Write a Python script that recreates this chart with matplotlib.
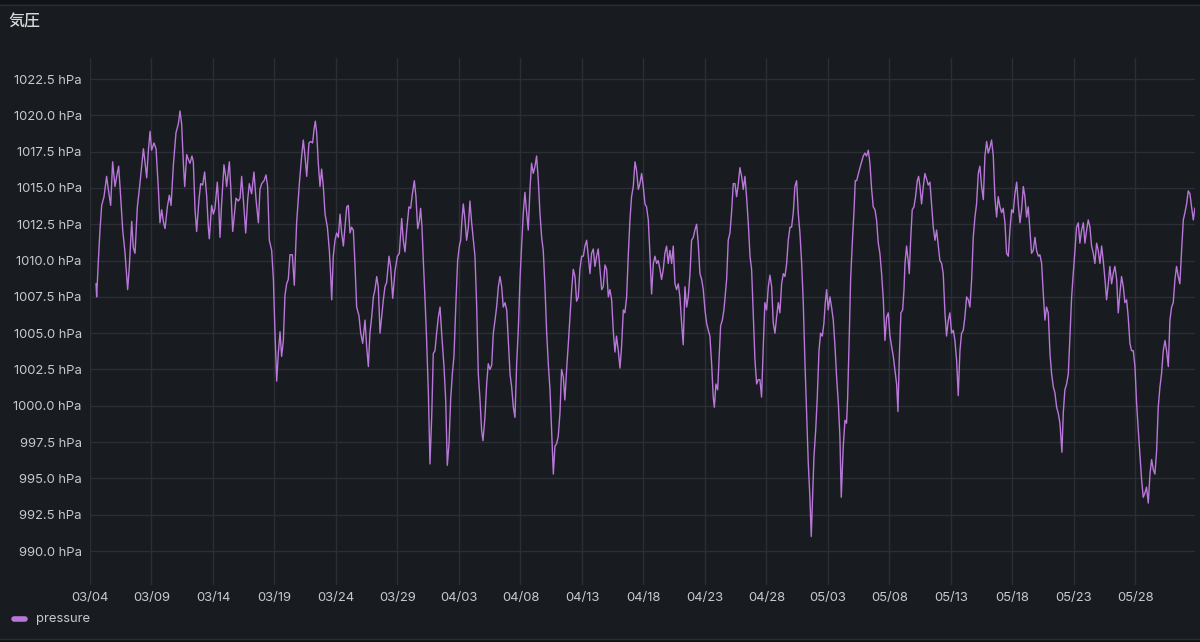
import pandas as pd
import matplotlib
matplotlib.use("Agg")
import matplotlib.pyplot as plt
from matplotlib.lines import Line2D
from matplotlib.patches import Rectangle

plt.rcParams['font.family'] = ['Inter', 'Noto Sans CJK JP', 'DejaVu Sans']

# readings: days after 03/04 00:00, pressure in hPa
days_1 = [0.49, 0.54, 0.68, 0.81, 0.95, 1.14, 1.35, 1.49, 1.68, 1.84,
          2.03, 2.17, 2.33, 2.44, 2.66, 2.85, 3.06, 3.20, 3.39, 3.52,
          3.66, 3.85, 4.06, 4.34, 4.47, 4.61, 4.74, 4.88, 5.01, 5.20,
          5.37, 5.56, 5.69, 5.83, 5.96, 6.10, 6.29, 6.45, 6.59, 6.78,
          6.99, 7.18, 7.32, 7.45, 7.59, 7.70, 7.86, 8.02, 8.13, 8.29,
          8.40, 8.54, 8.67, 8.86, 9.00, 9.16, 9.32, 9.49, 9.62, 9.70,
          9.89, 10.03, 10.16, 10.35, 10.46, 10.57, 10.70, 10.89, 11.03, 11.11,
          11.33, 11.44, 11.60, 11.71, 11.87, 12.06, 12.20, 12.33, 12.47, 12.66,
          12.82, 12.95, 13.14, 13.33, 13.50, 13.69, 13.82, 13.96, 14.15, 14.31,
          14.44, 14.58, 14.77, 14.91, 15.04, 15.18, 15.31, 15.45, 15.58, 15.72,
          15.85, 15.99, 16.12, 16.26, 16.45, 16.61]
hpa_1 = [1008.4, 1007.5, 1010.0, 1012.1, 1013.8, 1014.4, 1015.8, 1014.9, 1013.8, 1016.8,
         1015.1, 1015.8, 1016.5, 1015.1, 1012.1, 1010.5, 1008.0, 1009.6, 1012.7, 1010.9,
         1010.5, 1013.7, 1015.3, 1017.7, 1016.8, 1015.7, 1017.5, 1018.9, 1017.6, 1018.1,
         1017.7, 1014.9, 1012.6, 1013.5, 1012.7, 1012.2, 1013.7, 1014.5, 1013.8, 1016.6,
         1018.8, 1019.4, 1020.3, 1019.4, 1016.7, 1015.1, 1017.3, 1016.9, 1016.7, 1017.2,
         1016.8, 1013.5, 1012.0, 1014.2, 1015.3, 1015.2, 1016.1, 1014.4, 1012.3, 1011.5,
         1013.8, 1013.2, 1013.6, 1015.4, 1013.9, 1011.6, 1013.9, 1016.6, 1015.8, 1015.1,
         1016.8, 1015.1, 1012.0, 1012.9, 1014.3, 1014.1, 1014.3, 1015.8, 1014.2, 1011.9,
         1014.2, 1015.3, 1014.6, 1016.1, 1014.2, 1012.6, 1014.9, 1015.3, 1015.5, 1015.9,
         1015.1, 1011.4, 1010.7, 1008.7, 1005.0, 1001.7, 1003.6, 1005.1, 1003.4, 1004.5,
         1007.6, 1008.4, 1008.7, 1010.4, 1010.4, 1008.3]

days_2 = [16.80, 17.02, 17.21, 17.34, 17.48, 17.62, 17.80, 17.94, 18.10, 18.21,
          18.32, 18.43, 18.56, 18.70, 18.83, 18.97, 19.11, 19.30, 19.46, 19.57,
          19.65, 19.78, 19.92, 20.05, 20.19, 20.33, 20.46, 20.60, 20.73, 20.87,
          21.00, 21.14, 21.27, 21.41, 21.54, 21.68, 21.87, 22.01, 22.17, 22.36,
          22.49, 22.63, 22.76, 22.90, 23.04, 23.17, 23.31, 23.44, 23.58, 23.71,
          23.85, 23.98, 24.12, 24.31, 24.44, 24.61, 24.80, 24.99, 25.15, 25.34,
          25.47, 25.61, 25.75, 25.93, 26.07, 26.21, 26.37, 26.50, 26.64, 26.77,
          26.88, 26.99, 27.10, 27.24, 27.37, 27.51, 27.64, 27.78, 27.91, 28.05,
          28.18, 28.32, 28.46, 28.59, 28.78, 28.92, 29.05, 29.19, 29.32, 29.46,
          29.59, 29.76, 29.89, 30.03, 30.14, 30.24, 30.35, 30.49, 30.62, 30.76,
          30.89, 31.03, 31.17, 31.30, 31.44, 31.57, 31.71, 31.84, 31.95, 32.11,
          32.25, 32.38, 32.52, 32.66, 32.79, 32.93, 33.06, 33.20, 33.33, 33.47,
          33.60, 33.74, 33.88, 34.01, 34.15, 34.28, 34.42, 34.55]
hpa_2 = [1012.6, 1015.3, 1017.2, 1018.3, 1017.2, 1015.8, 1018.1, 1018.2, 1018.1, 1019.0,
         1019.6, 1018.8, 1016.7, 1015.1, 1016.3, 1015.1, 1013.2, 1012.3, 1010.7, 1008.9,
         1007.3, 1010.3, 1011.4, 1011.9, 1011.6, 1013.2, 1011.9, 1011.0, 1012.3, 1013.7,
         1013.8, 1011.9, 1012.3, 1012.1, 1009.8, 1006.8, 1006.2, 1005.0, 1004.3, 1005.9,
         1004.1, 1002.7, 1005.0, 1006.1, 1007.5, 1008.0, 1008.9, 1008.2, 1005.0, 1006.1,
         1007.3, 1008.2, 1008.5, 1010.3, 1009.6, 1007.4, 1009.3, 1010.3, 1010.5, 1012.9,
         1011.4, 1010.6, 1012.1, 1013.7, 1013.6, 1014.6, 1015.5, 1014.4, 1012.2, 1012.7,
         1013.6, 1012.3, 1010.0, 1007.3, 1004.5, 1000.9, 996.0, 999.2, 1003.6, 1003.8,
         1005.0, 1006.1, 1006.8, 1005.0, 1002.7, 1000.4, 995.9, 997.4, 1000.4, 1002.2,
         1003.4, 1007.3, 1010.0, 1011.0, 1011.4, 1012.8, 1013.9, 1012.8, 1011.4, 1012.3,
         1014.1, 1012.6, 1011.4, 1010.3, 1006.8, 1002.2, 1000.4, 998.3, 997.6, 999.2,
         1001.5, 1002.9, 1002.5, 1002.8, 1005.0, 1005.9, 1006.8, 1008.2, 1008.9, 1008.2,
         1006.8, 1007.1, 1006.6, 1004.5, 1002.2, 1001.3, 999.9, 999.2]

days_3 = [34.69, 34.82, 34.96, 35.09, 35.23, 35.36, 35.50, 35.63, 35.77, 35.90,
          36.04, 36.18, 36.31, 36.45, 36.58, 36.72, 36.85, 36.99, 37.12, 37.26,
          37.40, 37.53, 37.67, 37.80, 37.94, 38.07, 38.21, 38.34, 38.48, 38.61,
          38.75, 38.89, 39.02, 39.16, 39.29, 39.43, 39.56, 39.70, 39.83, 39.97,
          40.11, 40.24, 40.38, 40.51, 40.65, 40.78, 40.92, 41.05, 41.19, 41.32,
          41.46, 41.60, 41.73, 41.87, 42.00, 42.14, 42.27, 42.41, 42.54, 42.68,
          42.81, 42.95, 43.09, 43.22, 43.36, 43.49, 43.63, 43.76, 43.90, 44.03,
          44.17, 44.31, 44.44, 44.58, 44.71, 44.85, 44.98, 45.12, 45.25, 45.39,
          45.52, 45.66, 45.80, 45.93, 46.07, 46.20, 46.34, 46.47, 46.61, 46.74,
          46.88, 47.01, 47.15, 47.29, 47.42, 47.56, 47.69, 47.83, 47.96, 48.10,
          48.23, 48.37, 48.51, 48.64, 48.78, 48.91, 49.05, 49.18, 49.32, 49.45,
          49.59, 49.73, 49.86, 50.00, 50.13, 50.27, 50.40, 50.54, 50.67, 50.76,
          50.89, 51.03, 51.13, 51.27, 51.41, 51.54, 51.76, 51.89, 52.03]
hpa_3 = [1002.9, 1005.2, 1008.7, 1011.0, 1013.3, 1014.7, 1013.3, 1012.1, 1014.9, 1016.7,
         1016.0, 1016.5, 1017.2, 1015.5, 1013.3, 1011.6, 1010.7, 1008.2, 1005.2, 1002.9,
         1001.1, 998.3, 995.3, 997.2, 997.4, 997.9, 999.5, 1002.5, 1002.0, 1000.4,
         1002.5, 1004.3, 1006.1, 1008.0, 1009.4, 1008.9, 1007.2, 1007.5, 1009.4, 1010.3,
         1010.3, 1011.0, 1011.4, 1010.3, 1009.1, 1010.5, 1010.8, 1009.6, 1010.3, 1010.8,
         1009.4, 1008.0, 1008.2, 1009.7, 1009.4, 1007.5, 1008.0, 1007.3, 1005.2, 1003.7,
         1004.8, 1003.8, 1002.6, 1004.1, 1006.6, 1006.4, 1007.5, 1010.3, 1012.8, 1014.4,
         1015.1, 1016.8, 1016.2, 1014.9, 1015.3, 1016.0, 1015.1, 1013.9, 1013.7, 1012.8,
         1010.5, 1007.7, 1009.8, 1010.3, 1009.8, 1010.0, 1009.4, 1008.7, 1009.4, 1010.5,
         1011.0, 1009.8, 1010.7, 1009.8, 1011.0, 1008.4, 1008.0, 1008.4, 1007.5, 1005.7,
         1004.2, 1008.2, 1006.8, 1007.5, 1009.1, 1011.4, 1011.6, 1012.1, 1012.5, 1011.2,
         1009.1, 1008.7, 1008.0, 1006.6, 1005.7, 1005.2, 1004.8, 1002.9, 1000.6, 999.9,
         1001.5, 1001.1, 1002.9, 1005.5, 1005.9, 1006.6, 1008.7, 1011.4, 1011.9]

days_4 = [52.16, 52.30, 52.44, 52.57, 52.71, 52.84, 52.98, 53.11, 53.25, 53.38,
          53.52, 53.66, 53.79, 53.93, 54.06, 54.20, 54.33, 54.47, 54.60, 54.74,
          54.87, 55.01, 55.15, 55.28, 55.42, 55.55, 55.69, 55.82, 55.96, 56.09,
          56.23, 56.37, 56.50, 56.64, 56.77, 56.91, 57.04, 57.18, 57.31, 57.45,
          57.58, 57.72, 57.86, 57.99, 58.13, 58.26, 58.40, 58.53, 58.64, 58.75,
          58.86, 59.00, 59.13, 59.27, 59.40, 59.54, 59.67, 59.78, 59.89, 60.02,
          60.16, 60.29, 60.43, 60.57, 60.70, 60.84, 60.97, 61.08, 61.24, 61.38,
          61.51, 61.60, 61.73, 61.84, 62.00, 62.11, 62.22, 62.33, 62.60, 62.87,
          63.00, 63.14, 63.28, 63.41, 63.55, 63.68, 63.82, 63.95, 64.09, 64.22,
          64.36, 64.50, 64.63, 64.77, 64.90, 65.04, 65.17, 65.31, 65.44, 65.58,
          65.69, 65.80, 65.93, 66.07, 66.18, 66.26, 66.39, 66.53, 66.61, 66.72,
          66.85, 66.99, 67.12, 67.26, 67.37]
hpa_4 = [1013.3, 1015.3, 1015.3, 1014.4, 1015.3, 1016.4, 1015.8, 1014.9, 1015.8, 1014.4,
         1012.6, 1010.3, 1009.4, 1006.1, 1003.2, 1001.5, 1001.8, 1001.8, 1000.6, 1004.1,
         1007.1, 1006.6, 1008.2, 1009.0, 1008.2, 1005.7, 1005.0, 1006.1, 1007.1, 1006.4,
         1008.4, 1009.1, 1008.9, 1009.8, 1011.4, 1012.3, 1012.3, 1013.3, 1015.1, 1015.5,
         1013.3, 1011.9, 1009.8, 1007.1, 1002.9, 999.5, 996.0, 993.7, 991.0, 993.7,
         996.5, 998.3, 1000.6, 1003.8, 1005.0, 1004.8, 1005.7, 1007.1, 1008.0, 1006.6,
         1007.5, 1006.8, 1005.9, 1004.1, 1002.0, 1000.2, 997.9, 993.7, 997.2, 999.0,
         998.8, 1000.6, 1004.8, 1008.7, 1011.6, 1013.3, 1015.5, 1015.5, 1016.4, 1017.2,
         1017.4, 1017.2, 1017.6, 1016.7, 1014.9, 1013.7, 1013.5, 1012.8, 1011.2, 1010.5,
         1009.1, 1007.3, 1004.5, 1006.1, 1006.4, 1004.8, 1004.1, 1003.4, 1002.5, 1001.5,
         999.6, 1003.4, 1006.4, 1006.6, 1008.0, 1009.8, 1011.0, 1009.9, 1009.1, 1011.4,
         1013.5, 1013.7, 1014.4, 1015.5, 1015.8]

days_5 = [67.48, 67.61, 67.75, 67.88, 68.02, 68.15, 68.29, 68.42, 68.56, 68.70,
          68.83, 68.97, 69.10, 69.24, 69.37, 69.51, 69.64, 69.78, 69.91, 70.05,
          70.19, 70.32, 70.46, 70.59, 70.73, 70.86, 71.00, 71.13, 71.27, 71.41,
          71.54, 71.68, 71.81, 71.95, 72.08, 72.22, 72.35, 72.49, 72.63, 72.76,
          72.90, 73.03, 73.17, 73.30, 73.44, 73.57, 73.71, 73.84, 73.98, 74.12,
          74.25, 74.39, 74.52, 74.66, 74.79, 74.93, 75.06, 75.20, 75.34, 75.47,
          75.61, 75.74, 75.88, 76.01, 76.15, 76.28, 76.42, 76.55, 76.69, 76.83,
          76.96, 77.10, 77.23, 77.37, 77.50, 77.64, 77.77, 77.91, 78.05, 78.18,
          78.32, 78.45, 78.59, 78.72, 78.86, 79.02, 79.13, 79.26, 79.40, 79.54,
          79.67, 79.81, 79.94, 80.08, 80.21, 80.35, 80.48, 80.62, 80.76, 80.89,
          81.03, 81.16, 81.30, 81.43, 81.57, 81.70, 81.84, 81.97, 82.11, 82.25,
          82.38, 82.52, 82.65, 82.79, 82.92, 83.06, 83.19, 83.33, 83.47, 83.60,
          83.74, 83.87, 84.01, 84.14, 84.28, 84.41, 84.55, 84.68, 84.82, 84.96,
          85.09, 85.23, 85.36, 85.50, 85.63, 85.77, 85.90, 86.04, 86.18, 86.31,
          86.45, 86.58, 86.72, 86.85, 86.99, 87.12, 87.26, 87.40, 87.53, 87.67,
          87.80, 87.94, 88.07, 88.21, 88.34, 88.48, 88.61, 88.75, 88.89, 89.02,
          89.16, 89.29, 89.43, 89.56, 89.70, 89.83]
hpa_5 = [1015.1, 1013.9, 1015.1, 1016.0, 1015.6, 1015.2, 1015.4, 1013.9, 1012.3, 1011.4,
         1012.1, 1011.0, 1010.0, 1009.8, 1009.1, 1006.4, 1004.8, 1005.9, 1006.4, 1005.0,
         1005.2, 1004.5, 1003.1, 1000.7, 1003.8, 1005.0, 1005.2, 1006.1, 1007.5, 1007.3,
         1006.8, 1008.7, 1011.6, 1013.0, 1013.9, 1016.0, 1016.5, 1015.1, 1014.2, 1017.2,
         1018.2, 1017.4, 1017.8, 1018.3, 1017.2, 1014.4, 1013.0, 1014.4, 1013.7, 1013.3,
         1013.6, 1012.6, 1010.5, 1010.3, 1012.1, 1013.5, 1013.3, 1014.6, 1015.4, 1013.9,
         1012.6, 1013.5, 1015.1, 1014.4, 1013.0, 1013.7, 1012.1, 1010.5, 1010.7, 1011.6,
         1010.7, 1010.3, 1010.4, 1009.8, 1007.8, 1005.9, 1006.8, 1006.4, 1003.6, 1002.2,
         1001.3, 1000.9, 999.9, 999.5, 998.8, 996.8, 999.5, 1001.1, 1001.5, 1002.2,
         1004.8, 1007.5, 1009.1, 1010.7, 1012.3, 1012.6, 1011.2, 1012.1, 1012.6, 1011.2,
         1012.1, 1012.8, 1012.3, 1011.0, 1010.5, 1009.8, 1011.2, 1010.7, 1009.8, 1011.0,
         1010.0, 1008.7, 1007.3, 1008.4, 1009.6, 1008.4, 1009.1, 1009.6, 1008.7, 1006.4,
         1007.8, 1008.9, 1008.2, 1007.1, 1007.3, 1006.1, 1004.3, 1003.8, 1003.8, 1002.7,
         1000.2, 998.3, 996.7, 994.9, 993.7, 994.0, 994.4, 993.3, 995.3, 996.3,
         995.6, 995.3, 996.9, 999.9, 1001.3, 1002.2, 1003.8, 1004.5, 1003.8, 1002.7,
         1005.9, 1006.8, 1007.1, 1008.7, 1009.6, 1008.9, 1008.4, 1010.7, 1012.8, 1013.3,
         1013.9, 1014.8, 1014.6, 1013.7, 1012.8, 1013.6]

y_ticks = [990.0, 992.5, 995.0, 997.5, 1000.0, 1002.5, 1005.0, 1007.5, 1010.0,
           1012.5, 1015.0, 1017.5, 1020.0, 1022.5]

BG = "#181b1f"
EDGE_BG = "#111217"
LINE = "#b877d9"
TEXT = "#c7c9d1"
GRID = "#2b2e34"

start = pd.Timestamp("2024-03-04")
days = days_1 + days_2 + days_3 + days_4 + days_5
hpa = hpa_1 + hpa_2 + hpa_3 + hpa_4 + hpa_5
times = start + pd.to_timedelta(days, unit="D")

fig = plt.figure(figsize=(12, 6.42), dpi=100, facecolor=BG)
ax = fig.add_axes([90 / 1200, 1 - 585 / 642, 1105 / 1200, 527 / 642])
ax.set_facecolor(BG)

ax.plot(times, hpa, color=LINE, lw=1)

ax.set_xlim(start, start + pd.Timedelta(days=89.84))
ax.set_ylim(987.66, 1023.95)

x_ticks = pd.date_range(start, periods=18, freq="5D")
ax.set_xticks(x_ticks)
ax.set_xticklabels([d.strftime("%m/%d") for d in x_ticks])
ax.set_yticks(y_ticks)
ax.set_yticklabels([f"{v:.1f} hPa" for v in y_ticks])
ax.tick_params(length=0, colors=TEXT, labelsize=9.4)
ax.tick_params(axis="y", pad=6)
ax.tick_params(axis="x", pad=5)
ax.grid(color=GRID, lw=1)
ax.set_axisbelow(True)
for s in ax.spines.values():
    s.set_visible(False)

# panel title
fig.text(8 / 1200, 1 - 22 / 642, "気圧", va="center", ha="left", fontsize=11.5,
         color="#d8d9da", fontweight="medium")

# legend
fig.add_artist(Line2D([14 / 1200, 25 / 1200], [1 - 619 / 642] * 2, transform=fig.transFigure,
                      lw=4, color=LINE, solid_capstyle="round"))
fig.text(36 / 1200, 1 - 619 / 642, "pressure", va="center", ha="left", fontsize=9.4, color=TEXT)

# dark strips above and below the panel, with its edge lines
fig.add_artist(Rectangle((0, 1 - 4 / 642), 1, 4 / 642, transform=fig.transFigure,
                         facecolor=EDGE_BG, edgecolor="none"))
fig.add_artist(Rectangle((0, 0), 1, 3 / 642, transform=fig.transFigure,
                         facecolor=EDGE_BG, edgecolor="none"))
fig.add_artist(Line2D([0, 1], [1 - 4.5 / 642] * 2, transform=fig.transFigure, color="#2a2c31", lw=1))
fig.add_artist(Line2D([0, 1], [3.5 / 642] * 2, transform=fig.transFigure, color="#2a2c31", lw=1))

fig.savefig("out.png", dpi=100, facecolor=BG)
